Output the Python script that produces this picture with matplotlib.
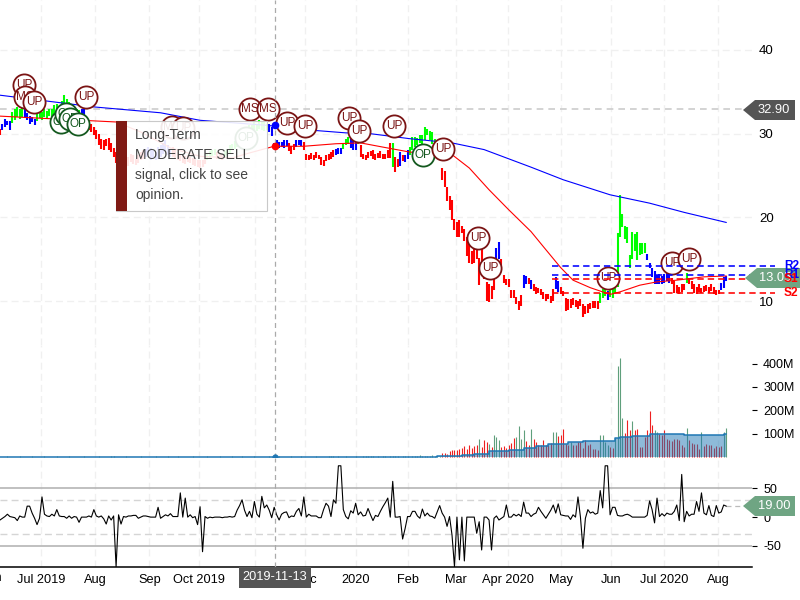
import matplotlib
matplotlib.use('Agg')
import matplotlib.pyplot as plt
from matplotlib.patches import Polygon, Rectangle
import numpy as np

plt.rcParams['font.family'] = ['Liberation Sans', 'DejaVu Sans']
plt.rcParams['axes.unicode_minus'] = False

# ---- data, one entry per trading day ----
bar_colors = (
    'rbbbbggggg' 'bbbbbggggg' 'gggggggggg' 'gggbbrrrrr' 'rrrrrrrrrr'
    'rrrrrrrrrb' 'bbbbbbbbbb' 'rrrrrrrrrr' 'rrrrggggrr' 'rggggggggg'
    'gggggggggb' 'bbbbbbbrrr' 'bbbrrrrrrr' 'rrrrrrbbbg' 'ggbbbgrrrr'
    'rrrrrrrrrg' 'rrbrbbgggg' 'ggggggggrr' 'rrrrrrrrrr' 'rrrrrrrrrr'
    'rbbrrrrrrr' 'rrbbrbrrrr' 'rrrrrbbrrr' 'rrrrrrrrrr' 'rrrgggbggg'
    'gggggggggg' 'ggbbbbbbbb' 'bbrrrrrrgr' 'rrrrrrrrrr' 'rrbbb'
)
bar_low = [
    29.9, 30.4, 30.8, 31.0, 30.5, 31.3, 31.6, 32.0, 31.7, 32.0,
    31.9, 31.6, 31.2, 31.4, 31.0, 31.5, 31.9, 31.6, 32.0, 31.7,
    32.1, 32.0, 32.3, 32.6, 32.2, 32.6, 33.2, 33.0, 32.6, 32.4,
    32.0, 31.8, 31.6, 32.2, 31.2, 30.6, 30.4, 30.2, 29.8, 29.4,
    28.6, 28.2, 28.1, 28.5, 28.0, 27.8, 27.2, 26.5, 25.3, 25.0,
    25.5, 26.0, 26.2, 26.6, 26.4, 26.3, 26.5, 26.8, 27.0, 27.2,
    27.4, 26.9, 27.0, 26.8, 27.0, 27.2, 27.6, 27.9, 27.5, 27.2,
    27.2, 27.0, 26.8, 26.7, 26.5, 26.4, 26.6, 26.5, 26.3, 26.2,
    26.0, 25.9, 26.0, 26.4, 26.9, 27.1, 27.3, 27.4, 27.0, 27.0,
    26.9, 27.2, 27.4, 27.7, 28.0, 28.2, 28.4, 28.9, 29.4, 29.6,
    29.9, 30.2, 30.0, 30.4, 30.3, 30.6, 30.5, 30.3, 30.4, 30.2,
    29.7, 28.3, 28.5, 28.3, 28.4, 28.3, 28.5, 27.9, 27.6, 28.0,
    28.4, 28.6, 28.5, 28.0, 26.8, 26.9, 27.0, 26.9, 27.1, 27.0,
    26.3, 26.2, 26.7, 26.9, 27.0, 27.2, 27.4, 27.6, 27.6, 28.2,
    28.6, 28.8, 28.3, 28.0, 28.1, 28.8, 27.2, 27.0, 26.9, 27.1,
    27.3, 27.0, 26.9, 27.1, 27.1, 27.0, 27.0, 27.1, 27.1, 26.0,
    25.4, 26.0, 26.1, 26.7, 26.6, 27.0, 27.4, 28.0, 28.4, 28.6,
    28.9, 28.8, 29.3, 29.8, 29.2, 28.8, 28.4, 28.2, 27.5, 24.5,
    23.6, 22.0, 20.9, 19.7, 18.5, 17.7, 17.7, 18.1, 17.2, 15.4,
    14.6, 14.4, 14.6, 15.0, 11.9, 13.0, 12.6, 10.0, 9.9, 10.2,
    11.3, 15.0, 15.0, 13.7, 12.2, 11.9, 11.7, 10.4, 10.4, 9.6,
    8.9, 9.4, 11.6, 12.0, 12.0, 11.5, 11.2, 10.8, 11.0, 10.7,
    10.3, 10.0, 10.2, 9.8, 10.0, 11.5, 11.1, 10.8, 10.6, 8.8,
    8.9, 9.2, 9.5, 9.3, 9.0, 9.4, 8.1, 8.4, 8.6, 9.0,
    9.2, 9.2, 9.1, 9.8, 10.4, 10.6, 10.1, 10.5, 10.4, 11.0,
    11.7, 17.6, 18.8, 17.4, 17.0, 14.0, 15.0, 16.0, 14.9, 15.5,
    15.6, 15.8, 14.9, 13.9, 12.9, 12.0, 12.0, 12.1, 12.1, 12.2,
    12.4, 12.2, 12.0, 11.0, 11.0, 10.9, 11.1, 11.3, 12.2, 12.0,
    11.5, 11.0, 10.9, 11.1, 11.0, 11.1, 11.2, 11.0, 11.2, 10.9,
    10.7, 10.8, 11.3, 11.6, 12.4,
]
bar_high = [
    30.6, 31.2, 31.8, 31.5, 31.5, 32.6, 33.0, 33.2, 32.9, 33.1,
    33.2, 32.5, 32.1, 32.0, 31.8, 32.3, 32.8, 32.6, 33.0, 32.7,
    33.0, 32.9, 33.4, 33.6, 33.2, 33.9, 34.6, 34.2, 33.8, 33.6,
    33.2, 33.0, 32.8, 33.0, 33.0, 31.2, 31.0, 31.1, 30.8, 30.4,
    30.0, 29.4, 29.2, 29.4, 29.5, 28.9, 28.3, 27.8, 27.3, 26.2,
    26.5, 27.0, 27.2, 27.6, 27.4, 27.0, 27.5, 27.8, 28.0, 28.2,
    28.4, 28.3, 28.0, 27.8, 28.4, 28.6, 28.9, 29.2, 28.6, 28.2,
    28.4, 28.0, 27.8, 27.6, 27.4, 27.3, 27.4, 27.2, 27.1, 27.0,
    26.9, 26.9, 26.8, 27.2, 27.7, 27.9, 28.1, 28.2, 27.8, 27.6,
    27.6, 27.9, 28.2, 28.7, 28.8, 29.1, 29.3, 29.8, 30.2, 30.3,
    30.6, 31.0, 31.0, 31.4, 31.2, 31.6, 31.4, 31.4, 31.2, 31.1,
    30.8, 28.9, 29.2, 29.0, 29.0, 29.2, 29.2, 28.9, 28.5, 28.8,
    29.2, 29.3, 29.2, 29.0, 27.6, 27.4, 27.7, 27.5, 27.8, 27.5,
    27.2, 26.9, 27.5, 27.6, 27.8, 28.0, 28.2, 28.3, 28.3, 28.9,
    29.4, 29.6, 30.4, 29.2, 29.0, 29.5, 28.6, 27.6, 27.5, 27.8,
    27.9, 28.0, 27.6, 27.7, 27.9, 27.6, 27.6, 28.0, 28.9, 28.9,
    27.2, 27.0, 27.8, 27.4, 27.5, 28.0, 28.4, 29.6, 29.6, 29.5,
    29.8, 29.8, 30.8, 30.6, 30.3, 30.2, 29.4, 29.0, 28.5, 25.9,
    25.6, 23.6, 22.5, 22.1, 19.8, 19.5, 19.7, 19.0, 18.6, 17.6,
    16.8, 16.0, 16.5, 16.4, 15.2, 16.7, 14.0, 12.3, 12.0, 11.8,
    12.8, 16.4, 17.1, 15.0, 13.1, 12.6, 12.6, 11.3, 11.3, 10.5,
    10.0, 10.7, 13.1, 13.0, 12.8, 12.5, 12.0, 11.7, 11.6, 11.4,
    11.1, 10.8, 10.8, 10.6, 11.4, 12.9, 12.4, 11.7, 11.2, 10.4,
    10.3, 10.2, 10.4, 10.1, 10.0, 10.3, 9.6, 9.4, 9.6, 9.8,
    10.0, 10.0, 10.0, 11.0, 11.5, 11.7, 11.2, 11.5, 11.4, 13.5,
    18.1, 22.7, 20.4, 19.0, 18.9, 15.5, 18.3, 18.0, 18.3, 17.0,
    17.0, 16.9, 15.6, 14.6, 14.0, 13.6, 13.1, 13.2, 13.0, 13.2,
    13.4, 13.2, 12.8, 12.4, 11.9, 11.7, 12.0, 12.1, 13.3, 12.8,
    12.4, 12.0, 11.7, 12.0, 11.6, 11.8, 11.9, 11.7, 12.0, 11.7,
    11.3, 11.3, 12.2, 12.9, 13.0,
]

ma_long_days = [0, 38, 65, 81, 108, 127, 140, 150, 166, 183, 196, 215, 228, 247, 263, 277, 294]
ma_long = [34.6, 33.2, 32.5, 31.6, 31.0, 30.4, 30.1, 30.0, 29.4, 28.9, 28.1, 26.0, 24.5, 22.7, 21.7, 20.6, 19.4]
ma_short_days = [0, 13, 47, 57, 69, 81, 94, 101, 111, 123, 136, 146, 155, 166, 183, 190, 198,
                 206, 215, 220, 227, 232, 239, 247, 251, 259, 266, 274, 285, 294]
ma_short = [32.1, 31.9, 31.4, 30.2, 28.3, 27.3, 27.1, 27.7, 28.5, 28.5, 28.8, 28.9, 28.4, 27.8, 27.5, 25.9, 23.3,
            20.9, 18.3, 16.5, 14.0, 12.5, 11.6, 10.8, 11.1, 11.9, 12.3, 12.5, 12.9, 13.0]

vol_early = [
    2, 1, 2, 3, 2, 1, 2, 2, 3, 1, 2, 2, 1, 3, 2, 2, 1, 2, 3, 2,
    1, 2, 2, 3, 1, 2, 1, 2, 3, 2, 2, 1, 2, 2, 3, 2, 1, 2, 1, 2,
    3, 2, 2, 1, 2, 3, 5, 2, 1, 2, 2, 3, 2, 1, 2, 2, 1, 3, 2, 2,
    1, 2, 2, 3, 2, 1, 2, 2, 3, 2, 1, 2, 3, 2, 2, 1, 2, 2, 3, 2,
    1, 2, 2, 1, 3, 2, 2, 1, 2, 3, 2, 1, 2, 2, 3, 2, 2, 1, 3, 2,
    2, 1, 2, 3, 2, 2, 1, 2, 2, 3, 1, 2, 2, 3, 2, 1, 2, 2, 3, 2,
    1, 2, 3, 2, 2, 1, 2, 2, 3, 2, 1, 2, 2, 3, 5, 4, 2, 3, 2, 2,
    3, 2, 1, 2, 3, 2, 2, 3, 4, 6, 5, 3, 2, 3, 2, 4, 3, 2, 3, 5,
    4, 3, 2, 3, 4, 3, 2, 5, 4, 5, 10, 5, 4, 6, 4, 7, 5, 6, 5,
]
vol_recent = [
    17, 17, 14, 27, 30, 30, 31, 34, 40, 47,
    34, 53, 39, 47, 53, 77, 43, 74, 64, 57,
    43, 94, 86, 74, 43, 46, 40, 53, 60, 82,
    86, 134, 79, 114, 69, 50, 122, 79, 64, 50,
    50, 72, 53, 53, 61, 107, 109, 92, 94, 122,
    57, 50, 64, 50, 50, 64, 64, 39, 74, 50,
    57, 36, 36, 31, 96, 93, 64, 50, 43, 40,
    83, 392, 426, 166, 104, 160, 117, 154, 117, 122,
    43, 43, 86, 114, 197, 139, 114, 107, 100, 93,
    114, 79, 74, 69, 79, 79, 72, 50, 43, 126,
    74, 60, 57, 57, 36, 109, 46, 57, 50, 51,
    40, 46, 43, 46, 109, 126,
]
vol_recent_colors = (
    'rrrrrrrrrr' 'rrrrrgrrrg' 'rgggrrrrrr' 'ggggrrgrrr' 'rrrrrggrrr'
    'rrgrrrrrrr' 'rrrrggggrr' 'ggggrrrgrr' 'rrrrrrggrr' 'rrrrrrrrrg'
    'rrrrrgrrrr' 'rrrrgg'
)
vol_avg_days = [0, 177, 187, 192, 198, 206, 212, 217, 222, 230, 236, 249, 251, 256, 263, 277, 293, 294]
vol_avg = [2, 6, 10, 14, 24, 31, 40, 48, 56, 64, 70, 80, 86, 92, 97, 94, 100, 100]

cci = [
    -5, -2, 1, 5, 1, 0, -1, -6, 2, 0, 0, 19, 19, 7, -2, -13, -2, 35, 5, 2,
    1, 5, 2, 13, 2, 1, 1, -2, 2, -2, 1, 0, -9, 0, 0, 0, 2, 0, 13, 2,
    0, 2, -3, -12, 2, -5, 2, -86, 4, -12, 1, 0, 2, 2, 3, 3, -2, 0, 2, 2,
    1, 0, 0, 0, 17, -2, 1, 4, 2, 6, 1, 1, 1, 42, 0, 33, 0, 4, -1, 1,
    -13, 18, -60, 1, -2, 0, -1, 0, 0, 0, -1, 0, 0, 1, 0, 1, 12, 20, 30, 12,
    1, 10, -1, 27, 5, 0, 36, 16, 21, 12, -1, 17, 4, -5, 5, 8, 9, -1, 2, 1,
    10, 15, 2, 35, 0, 5, 2, 2, 2, -1, -1, 13, 24, 19, 1, 30, 24, 89, 89, 13,
    1, -3, 11, 7, 24, 4, 9, 2, 3, 15, 4, -6, 3, 1, 10, 18, 25, 33, 0, 62,
    0, 0, 1, -38, -20, 1, 1, 10, 10, 2, -2, 14, 2, 7, 2, 1, -2, 9, 20, 7,
    0, -16, 1, -31, -86, 0, -74, 0, -76, 0, 0, 0, 0, -28, -8, -57, 0, 0, -5, -57,
    -2, 2, -5, -2, 1, 21, 0, 0, 5, 2, 5, 1, 26, 7, 7, 1, 5, 7, 17, 10,
    4, -2, 5, 12, 21, 7, 23, 4, 3, 2, 2, -4, 4, 0, 35, 0, -54, -2, 13, 7,
    9, 5, 7, 46, 16, 89, 89, 4, 17, 17, 3, 2, 2, 4, 5, 3, 0, 0, 0, 0,
    0, 0, 3, 28, 13, -10, 33, 1, 6, 2, 7, 5, 5, 10, 21, -6, 74, -8, 10, 2,
    5, 5, 27, 10, 42, 7, 4, 20, 3, 1, 20, 7, 9, 21, 19,
]

month_days = [16.8, 38.5, 60.5, 80.5, 103.2, 123.5, 144, 165.2, 184.6, 205.8, 227, 247.4, 269, 290.7]
month_labels = ['Jul 2019', 'Aug', 'Sep', 'Oct 2019', 'Nov', 'Dec', '2020', 'Feb', 'Mar',
                'Apr 2020', 'May', 'Jun', 'Jul 2020', 'Aug']

bubble_day = [9.7, 10.1, 13.8, 34.8, 24.7, 26.7, 28.3, 31.6, 69.6, 74.1, 99.6, 101.2, 108.5, 116.2, 123.5,
              141.3, 145.3, 159.5, 171.3, 179.4, 193.5, 198.4, 246.2, 272.1, 278.9]
bubble_price = [35.8, 34.4, 33.8, 34.4, 31.4, 32.4, 31.8, 31.2, 30.8, 30.7, 29.5, 33.0, 33.0, 31.3, 30.9,
                31.9, 30.3, 30.9, 27.5, 28.2, 17.5, 14.0, 12.8, 14.6, 15.0]
bubble_text = ['UP', 'MS', 'UP', 'UP', 'OP', 'OP', 'OP', 'OP', 'MS', 'UP', 'OP', 'MS', 'MS', 'UP', 'UP',
               'UP', 'UP', 'UP', 'OP', 'UP', 'UP', 'UP', 'UP', 'UP', 'UP']

pivot_names = ['R2', 'R1', 'S1', 'S2']
pivot_levels = [14.2, 13.12, 12.68, 10.97]
pivot_colors = ['#0000ff', '#0000ff', '#ff0000', '#ff0000']

cursor_day = 111.5
cursor_date = '2019-11-13'
last_price_line = 32.9
last_cci = 19.0
tooltip_lines = ['Long-Term', 'MODERATE SELL', 'signal, click to see', 'opinion.']

W, H = 800.0, 600.0
X_RIGHT = 752.0
X_STEP = 2.47


def panel(top, bottom):
    return fig.add_axes([0, 1 - bottom / H, X_RIGHT / W, (bottom - top) / H])


def px(x, y):
    return x / W, 1 - y / H


def pointer_label(x0, x1, yc, text, color, text_x, tip=12, half=10, zorder=20, size=9.3):
    pts = [px(x0, yc), px(x0 + tip, yc - half), px(x1, yc - half), px(x1, yc + half), px(x0 + tip, yc + half)]
    fig.add_artist(Polygon(pts, closed=True, transform=fig.transFigure, fc=color, ec='none', zorder=zorder))
    fig.text(*px(text_x, yc), text, color='white', fontsize=size, ha='center', va='center', zorder=zorder + 1)


fig = plt.figure(figsize=(8, 6), dpi=100)
ax_price = panel(0, 345)
ax_vol = panel(345, 458)
ax_cci = panel(458, 567)

days = np.arange(len(bar_low))
grid_style = dict(color='#f0f0f0', lw=1, ls=(0, (5, 3)), zorder=0)

for ax in (ax_price, ax_vol, ax_cci):
    ax.set_xlim(0, X_RIGHT / X_STEP)
    ax.set_xticks(month_days)
    ax.grid(axis='x', **grid_style)
    ax.set_axisbelow(True)
    ax.yaxis.tick_right()
    ax.tick_params(axis='x', length=0, labelbottom=False)
    for s in ax.spines.values():
        s.set_visible(False)
    ax.axvline(cursor_day, color='#aaaaaa', lw=0.9, ls=(0, (4, 3)), zorder=8)

# price panel
ax_price.set_ylim(40 - 295 / 8.37, 40 + 50 / 8.37)
ax_price.set_yticks([10, 20, 30, 40])
ax_price.grid(axis='y', **grid_style)
ax_price.tick_params(axis='y', length=0, pad=5, labelsize=9.5)
color_map = {'r': '#ff0000', 'g': '#00ff00', 'b': '#0000ff'}
ax_price.vlines(days, bar_low, bar_high, colors=[color_map[c] for c in bar_colors], lw=1.5, zorder=3)
ax_price.plot(ma_long_days, ma_long, color='#0000ff', lw=0.8, zorder=4)
ax_price.plot(ma_short_days, ma_short, color='#ff0000', lw=0.8, zorder=4)
ax_price.plot([cursor_day], [31.04], 'o', color='#0000ff', ms=4.5, zorder=9)
ax_price.plot([cursor_day], [28.53], 'o', color='#ff0000', ms=4.5, zorder=9)
ax_price.plot([0, 743 / X_STEP], [last_price_line, last_price_line], color='#cccccc', lw=1.2,
              ls=(0, (4, 3)), zorder=2, clip_on=False)

for i, (d, p, t) in enumerate(zip(bubble_day, bubble_price, bubble_text)):
    c = '#14591f' if t == 'OP' else '#7a1414'
    ax_price.scatter([d], [p], s=255, facecolors='white', edgecolors=c, linewidths=1.3, zorder=5 + i * 0.01)
    ax_price.text(d, p, t, color=c, fontsize=8.5, ha='center', va='center', zorder=5 + i * 0.01 + 0.005)

for name, lev, c in zip(pivot_names, pivot_levels, pivot_colors):
    ax_price.plot([552 / X_STEP, 775 / X_STEP], [lev, lev], color=c, lw=1.15, ls=(0, (4, 2.5)), zorder=30,
                  clip_on=False)

# volume panel
ax_vol.set_ylim(-4.3, 480)
ax_vol.set_yticks([100, 200, 300, 400])
ax_vol.set_yticklabels(['100M', '200M', '300M', '400M'])
ax_vol.tick_params(axis='y', length=3.5, width=0.8, pad=4.5, labelsize=9)
volume = np.array(vol_early + vol_recent)
vol_colors = 'g' * len(vol_early) + vol_recent_colors
vol_map = {'r': '#ee2020', 'g': '#5f9f7c'}
ax_vol.vlines(days, 0, volume, colors=[vol_map[c] for c in vol_colors], lw=0.8, zorder=3)
ax_vol.fill_between(vol_avg_days, 0, vol_avg, step='post', color='#1f77b4', alpha=0.5, lw=0, zorder=4)
ax_vol.step(vol_avg_days, vol_avg, where='post', color='#1f77b4', lw=1.1, zorder=5)
ax_vol.plot([cursor_day], [1], 'o', color='#1f77b4', ms=3.5, zorder=9, clip_on=False)

# cci panel
ax_cci.set_ylim(-86.5, 102.5)
ax_cci.set_yticks([-50, 0, 50])
ax_cci.tick_params(axis='y', length=3.5, width=0.8, pad=4.5, labelsize=9)
ax_cci.axhline(50, color='#b5b5b5', lw=1.2, zorder=1)
ax_cci.axhline(-50, color='#b5b5b5', lw=1.2, zorder=1)
ax_cci.axhline(30, color='#d5d5d5', lw=1.0, ls=(0, (5, 3)), zorder=1)
ax_cci.axhline(-30, color='#d5d5d5', lw=1.0, ls=(0, (5, 3)), zorder=1)
ax_cci.plot(days, cci, color='black', lw=0.8, zorder=3)
ax_cci.plot([days[-1], 743 / X_STEP], [last_cci, last_cci], color='#bbbbbb', lw=0.9, ls=(0, (4, 3)), zorder=2)
ax_cci.spines['bottom'].set_visible(True)
ax_cci.spines['bottom'].set_linewidth(1.1)

# month labels under the lower panel
ax_cci.tick_params(axis='x', labelbottom=True, labelsize=9.2, pad=4.7)
ax_cci.set_xticklabels(month_labels)
fig.text(*px(-8, 578), 'Jun', ha='center', va='center', fontsize=9.2)

# value flags on the right
pointer_label(743, 795, 110, '32.90', '#555555', 774)
pointer_label(745, 800, 278, '13.05', '#6fa583', 775)
pointer_label(743, 795, 506, '19.00', '#6fa583', 774)

for name, lev, c in zip(pivot_names, pivot_levels, pivot_colors):
    y_pos = ax_price.transData.transform((0, lev))[1]
    fig.text(784 / W, y_pos / 600, name, color=c, fontsize=8.6, fontweight='bold', va='center', zorder=25)

# cursor date box
fig.add_artist(Rectangle(px(239, 588), 72 / W, 21 / H, transform=fig.transFigure, fc='#555555', ec='none', zorder=20))
fig.text(*px(275, 577), cursor_date, color='white', fontsize=9.2, ha='center', va='center', zorder=21)

# tooltip
fig.add_artist(Rectangle(px(116, 211), 151 / W, 90 / H, transform=fig.transFigure, fc='white', ec='#c4c4c4', lw=0.8,
                         alpha=0.9, zorder=15))
fig.add_artist(Rectangle(px(116, 211), 11 / W, 90 / H, transform=fig.transFigure, fc='#7f1a14', ec='none', zorder=16))
for i, line in enumerate(tooltip_lines):
    fig.text(*px(135, 135 + 20 * i), line, color='#444444', fontsize=10, va='center', zorder=17)

fig.savefig('out.png', dpi=100)
